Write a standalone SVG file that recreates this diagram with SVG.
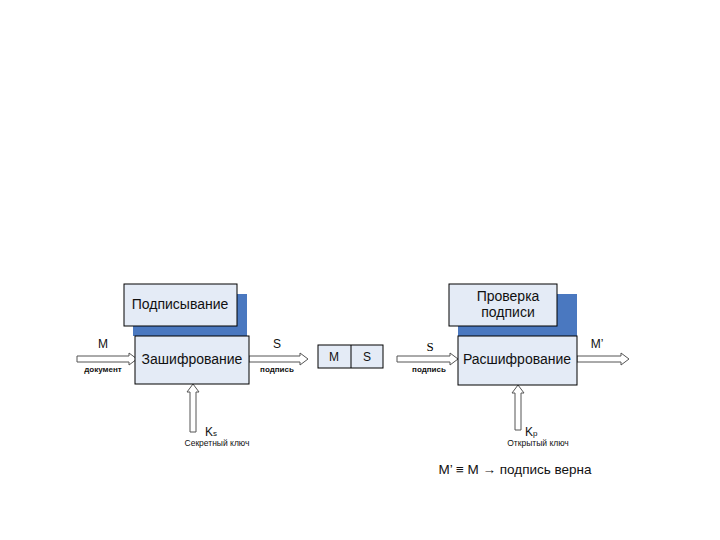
<svg xmlns="http://www.w3.org/2000/svg" width="720" height="540" viewBox="0 0 720 540">
<style>
.box{fill:#e4ebf6;stroke:#000;stroke-width:1}
.shadow{fill:#4a78c0}
.arr{fill:#fff;stroke:#555;stroke-width:1}
.t{font-family:"Liberation Sans",Arial,sans-serif;fill:#111}
.big{font-size:14px}
.lbl{font-size:12px}
.sm{font-size:8px;font-weight:bold}
.key{font-size:8.5px}
</style>
<rect width="720" height="540" fill="#fff"/>
<g id="connectors">
<polygon class="arr" points="77,356 129,356 129,353 137,359 129,365 129,362 77,362"/>
<polygon class="arr" points="249,356 300,356 300,353 308,359 300,365 300,362 249,362"/>
<polygon class="arr" points="190,432 190,392 187,392 193,384 199,392 196,392 196,432"/>
<polygon class="arr" points="397,356 450,356 450,353 458,359 450,365 450,362 397,362"/>
<polygon class="arr" points="577,356 621,356 621,353 629,359 621,365 621,362 577,362"/>
<polygon class="arr" points="515,430 515,393 512,393 518,385 524,393 521,393 521,430"/>
</g>
<g id="sign">
<rect class="shadow" x="133" y="294" width="114" height="42"/>
<rect class="box" x="124" y="284" width="113" height="42"/>
<text class="t big" x="180" y="309" text-anchor="middle">Подписывание</text>
</g>
<g id="encrypt">
<rect class="box" x="135" y="336" width="114" height="48"/>
<text class="t big" x="192" y="364" text-anchor="middle">Зашифрование</text>
</g>
<g id="labels-left">
<text class="t lbl" x="103" y="348" text-anchor="middle">M</text>
<text class="t sm" x="103" y="372" text-anchor="middle">документ</text>
<text class="t lbl" x="277" y="348" text-anchor="middle">S</text>
<text class="t sm" x="277" y="372" text-anchor="middle">подпись</text>
<text class="t lbl" x="205" y="436">K<tspan font-size="8">s</tspan></text>
<text class="t key" x="217" y="446" text-anchor="middle">Секретный ключ</text>
</g>
<g id="ms">
<rect x="318" y="345" width="65" height="23" fill="#e4ebf6" stroke="#000"/>
<line x1="351" y1="345" x2="351" y2="368" stroke="#000"/>
<text class="t lbl" x="334" y="361" text-anchor="middle">M</text>
<text class="t lbl" x="367" y="361" text-anchor="middle">S</text>
</g>
<g id="verify">
<rect class="shadow" x="458" y="294" width="119" height="42"/>
<rect class="box" x="449" y="284" width="108" height="42"/>
<text class="t big" x="508" y="301" text-anchor="middle">Проверка</text>
<text class="t big" x="508" y="317" text-anchor="middle">подписи</text>
</g>
<g id="decrypt">
<rect class="box" x="458" y="336" width="119" height="49"/>
<text class="t big" x="517" y="364" text-anchor="middle">Расшифрование</text>
</g>
<g id="labels-right">
<text x="430" y="351" text-anchor="middle" font-family="Liberation Serif,serif" font-size="13">S</text>
<text class="t sm" x="429" y="372" text-anchor="middle">подпись</text>
<text class="t lbl" x="597" y="348" text-anchor="middle">M’</text>
<text class="t lbl" x="525" y="436">K<tspan font-size="8">p</tspan></text>
<text class="t key" x="538" y="446" text-anchor="middle">Открытый ключ</text>
<text class="t" x="515" y="474" text-anchor="middle" font-size="13.5">M’ ≡ M → подпись верна</text>
</g>
</svg>
